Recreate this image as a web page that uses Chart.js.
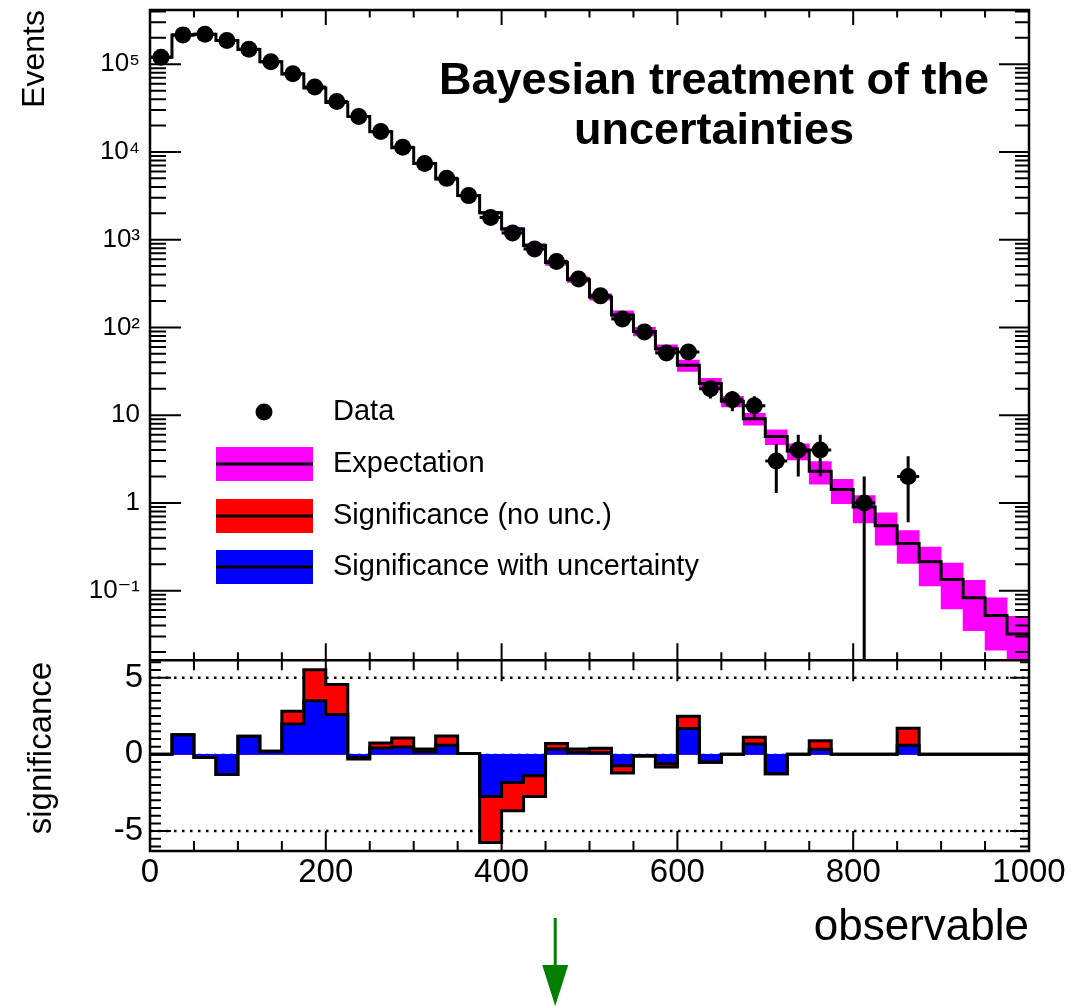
<!DOCTYPE html>
<html>
<head>
<meta charset="utf-8">
<title>Bayesian treatment of the uncertainties</title>
<script src="https://cdn.jsdelivr.net/npm/chart.js@4.4.1/dist/chart.umd.min.js"></script>
<style>
  html, body { margin: 0; padding: 0; background: #fff; }
</style>
</head>
<body>
<canvas id="sigChart" width="1071" height="1006"></canvas>
<script>
// histogram binning of the observable
const binEdges = [0, 25, 50, 75, 100, 125, 150, 175, 200, 225, 250, 275, 300, 325, 350, 375, 400, 425, 450, 475,
  500, 525, 550, 575, 600, 625, 650, 675, 700, 725, 750, 775, 800, 825, 850, 875, 900, 925, 950, 975, 1000];

// observed events per bin (null = empty bin, not drawn on log scale)
const dataCounts = [120000, 216000, 220000, 186000, 148000, 107000, 78000, 55000, 37600, 25300,
  17100, 11300, 7400, 5000, 3180, 1790, 1190, 782, 565, 356,
  229, 125, 89, 51, 52.5, 20, 15, 12.8, 3, 4,
  4, null, 1, null, 2, null, null, null, null, null];
// visible error bars on the data (hidden under the marker elsewhere)
const dataErrors = [0, 0, 0, 0, 0, 0, 0, 0, 0, 0,
  0, 0, 0, 0, 0, 0, 0, 0, 0, 0,
  15, 11, 9.5, 7, 7, 4.5, 3.9, 3.6, 1.7, 2,
  2, 0, 1, 0, 1.4, 0, 0, 0, 0, 0];

// expectation and its uncertainty band
const expectation = [120000, 215000, 220000, 186500, 147500, 107000, 77200, 53700, 36700, 25350,
  17000, 11200, 7370, 4920, 3180, 2030, 1320, 860, 548, 350,
  223, 139, 90, 57, 37, 22.9, 14.4, 9.1, 5.7, 3.9,
  2.3, 1.42, 0.9, 0.55, 0.344, 0.213, 0.134, 0.083, 0.052, 0.032];
const expectationUnc = [600, 1100, 1100, 950, 750, 550, 400, 280, 190, 260,
  340, 280, 220, 150, 110, 80, 66, 43, 38, 25,
  18, 16, 10, 6.5, 5.5, 3.4, 2, 1.4, 1.1, 0.8,
  0.66, 0.44, 0.31, 0.22, 0.14, 0.1, 0.072, 0.048, 0.031, 0.019];

// significance per bin
const sigNoUnc = [0, 1.28, -0.2, -1.32, 1.18, 0.2, 2.81, 5.52, 4.55, -0.3,
  0.74, 1.07, 0.35, 1.2, 0.05, -5.74, -3.67, -2.74, 0.7, 0.35,
  0.4, -1.22, -0.1, -0.82, 2.48, -0.52, 0, 1.11, -1.26, 0,
  0.89, 0, 0, 0, 1.7, 0, 0, 0, 0, 0];
const sigWithUnc = [0, 1.28, -0.2, -1.32, 1.18, 0.2, 1.98, 3.5, 2.59, -0.2,
  0.41, 0.48, 0.17, 0.59, 0.05, -2.74, -1.83, -1.39, 0.35, 0.13,
  0.1, -0.74, -0.1, -0.61, 1.68, -0.52, 0, 0.68, -1.26, 0,
  0.33, 0, 0, 0, 0.6, 0, 0, 0, 0, 0];

// axis ticks and texts
const xTicks = [0, 200, 400, 600, 800, 1000];
const eventTicks = [0.1, 1, 10, 100, 1000, 10000, 100000];
const sigTicks = [-5, 0, 5];
const titleLines = ['Bayesian treatment of the', 'uncertainties'];
const legendLabels = ['Data', 'Expectation', 'Significance (no unc.)', 'Significance with uncertainty'];
const arrowAt = 461;

const FONT = "'Liberation Sans', Arial, 'DejaVu Sans', sans-serif";
Chart.defaults.font.family = FONT;
Chart.defaults.color = '#000';

const centers = binEdges.slice(0, -1).map((e, i) => (e + binEdges[i + 1]) / 2);
// step outline: one point per left edge plus the closing right edge
const stepPoints = vals => binEdges.map((e, i) => ({ x: e, y: vals[Math.min(i, vals.length - 1)] }));

const SUP = { '-': '\u207B', '0': '\u2070', '1': '\u00B9', '2': '\u00B2', '3': '\u00B3', '4': '\u2074', '5': '\u2075', '6': '\u2076', '7': '\u2077', '8': '\u2078', '9': '\u2079' };
function powLabel(v) {
  const e = Math.round(Math.log10(v));
  if (e === 0) return '1';
  if (e === 1) return '10';
  return '10' + String(e).split('').map(c => SUP[c]).join('');
}

// fixed axis boxes so the frame sits where the reference has it
const fixV = s => { s.width = 150; s.paddingTop = 0; s.paddingBottom = 0; };
const fixH = s => { s.height = 155; s.paddingLeft = 0; s.paddingRight = 0; };

// keep each dataset inside its own panel
const panelClip = {
  id: 'panelClip',
  beforeDatasetDraw(chart, args) {
    const sc = args.meta.yScale;
    const a = chart.chartArea;
    chart.ctx.save();
    chart.ctx.beginPath();
    chart.ctx.rect(a.left, sc.top, a.right - a.left, sc.bottom - sc.top);
    chart.ctx.clip();
  },
  afterDatasetDraw(chart) {
    chart.ctx.restore();
  }
};

const rootFrame = {
  id: 'rootFrame',
  beforeDatasetsDraw(chart) {
    const { ctx, chartArea: a, scales: { y2 } } = chart;
    ctx.save();
    ctx.lineWidth = 2.5;
    ctx.setLineDash([2.5, 5.5]);
    ctx.strokeStyle = '#000';
    ctx.beginPath();
    [-5, 5].forEach(v => {
      const py = y2.getPixelForValue(v);
      ctx.moveTo(a.left, py);
      ctx.lineTo(a.right, py);
    });
    ctx.stroke();
    ctx.strokeStyle = '#5a5aff';
    ctx.lineWidth = 1.5;
    ctx.beginPath();
    const p0 = y2.getPixelForValue(0);
    ctx.moveTo(a.left, p0);
    ctx.lineTo(a.right, p0);
    ctx.stroke();
    ctx.restore();
  },
  afterDatasetsDraw(chart) {
    const { ctx, scales: { x, y, y2 } } = chart;

    // error bars on data
    ctx.save();
    ctx.beginPath();
    ctx.rect(x.left, y.top, x.right - x.left, y.bottom - y.top);
    ctx.clip();
    ctx.strokeStyle = '#000';
    ctx.lineWidth = 3;
    ctx.beginPath();
    dataCounts.forEach((c, i) => {
      if (c === null) return;
      const cx = x.getPixelForValue(centers[i]);
      const cy = y.getPixelForValue(c);
      ctx.moveTo(x.getPixelForValue(binEdges[i]), cy);
      ctx.lineTo(x.getPixelForValue(binEdges[i + 1]), cy);
      const e = dataErrors[i];
      if (e > 0) {
        const lo = c - e > 0 ? y.getPixelForValue(c - e) : y.bottom + 5;
        ctx.moveTo(cx, y.getPixelForValue(c + e));
        ctx.lineTo(cx, lo);
      }
    });
    ctx.stroke();
    ctx.restore();

    // frames
    ctx.save();
    ctx.strokeStyle = '#000';
    ctx.lineWidth = 2.5;
    ctx.strokeRect(x.left, y.top, x.right - x.left, y2.bottom - y.top);
    ctx.beginPath();
    ctx.moveTo(x.left, y.bottom);
    ctx.lineTo(x.right, y.bottom);
    ctx.stroke();

    // tick marks, ROOT style (inside the frame)
    ctx.lineWidth = 2;
    ctx.beginPath();
    for (let v = 0; v <= 1000; v += 50) {
      const px = x.getPixelForValue(v);
      const major = v % 200 === 0;
      ctx.moveTo(px, y.top); ctx.lineTo(px, y.top + (major ? 15 : 7.5));
      ctx.moveTo(px, y.bottom); ctx.lineTo(px, y.bottom - (major ? 17 : 8));
      ctx.moveTo(px, y2.top); ctx.lineTo(px, y2.top + (major ? 21 : 10));
      ctx.moveTo(px, y2.bottom); ctx.lineTo(px, y2.bottom - (major ? 20 : 10));
    }
    for (let d = -2; d <= 5; d++) {
      for (let m = 1; m <= 9; m++) {
        const v = m * Math.pow(10, d);
        if (v < y.min || v > y.max) continue;
        const py = y.getPixelForValue(v);
        ctx.moveTo(x.left, py); ctx.lineTo(x.left + (m === 1 ? 31 : 16), py);
        ctx.moveTo(x.right, py); ctx.lineTo(x.right - (m === 1 ? 30 : 14), py);
      }
    }
    for (let v = -6; v <= 6; v += 0.5) {
      const py = y2.getPixelForValue(v);
      const major = v % 5 === 0;
      ctx.moveTo(x.left, py); ctx.lineTo(x.left + (major ? 21 : 11), py);
      ctx.moveTo(x.right, py); ctx.lineTo(x.right - (major ? 19 : 9), py);
    }
    ctx.stroke();
    ctx.restore();
  },
  afterDraw(chart) {
    const { ctx, scales: { x, y } } = chart;
    ctx.save();
    ctx.fillStyle = '#000';

    // title inside the frame
    ctx.font = 'bold 45px ' + FONT;
    ctx.textAlign = 'center';
    ctx.textBaseline = 'alphabetic';
    titleLines.forEach((t, i) => ctx.fillText(t, 714, 94 + i * 50));

    // legend
    const rows = [412, 464, 516, 567];
    const fills = [null, '#ff00ff', '#ff0000', '#0000ff'];
    rows.forEach((cy, i) => {
      if (i === 0) {
        ctx.beginPath();
        ctx.arc(264, cy, 8.5, 0, Math.PI * 2);
        ctx.fill();
      } else {
        ctx.fillStyle = fills[i];
        ctx.fillRect(216, cy - 17, 97, 34);
        ctx.fillStyle = '#000';
        ctx.fillRect(216, cy - 1.5, 97, 3);
      }
      ctx.font = '29px ' + FONT;
      ctx.textAlign = 'left';
      ctx.textBaseline = 'middle';
      ctx.fillText(legendLabels[i], 333, cy);
    });

    // axis titles
    ctx.font = '32px ' + FONT;
    ctx.save();
    ctx.translate(35, y.top);
    ctx.rotate(-Math.PI / 2);
    ctx.textAlign = 'right';
    ctx.textBaseline = 'middle';
    ctx.fillText('Events', 0, 0);
    ctx.restore();

    ctx.font = '33px ' + FONT;
    ctx.save();
    ctx.translate(42, 748);
    ctx.rotate(-Math.PI / 2);
    ctx.textAlign = 'center';
    ctx.textBaseline = 'middle';
    ctx.fillText('significance', 0, 0);
    ctx.restore();

    ctx.font = '44px ' + FONT;
    ctx.textAlign = 'right';
    ctx.textBaseline = 'alphabetic';
    ctx.fillText('observable', x.right, 940);

    // green marker arrow below the axis
    const ax = x.getPixelForValue(arrowAt);
    ctx.strokeStyle = '#007f00';
    ctx.fillStyle = '#007f00';
    ctx.lineWidth = 3;
    ctx.beginPath();
    ctx.moveTo(ax, 918);
    ctx.lineTo(ax, 968);
    ctx.stroke();
    ctx.beginPath();
    ctx.moveTo(ax - 13, 965);
    ctx.lineTo(ax + 13, 965);
    ctx.lineTo(ax, 1006);
    ctx.closePath();
    ctx.fill();
    ctx.restore();
  }
};

const ctx = document.getElementById('sigChart').getContext('2d');

const sigChart = new Chart(ctx, {
  type: 'bar',
  data: {
    datasets: [
      {
        type: 'scatter',
        label: 'Data',
        data: dataCounts.map((c, i) => ({ x: centers[i], y: c })),
        yAxisID: 'y',
        pointRadius: 8.5,
        pointBorderWidth: 0,
        pointBackgroundColor: '#000',
        order: 0,
      },
      {
        type: 'line',
        label: 'Expectation',
        data: stepPoints(expectation),
        yAxisID: 'y',
        stepped: 'before',
        borderColor: '#000',
        borderWidth: 3,
        pointRadius: 0,
        fill: false,
        order: 1,
      },
      {
        label: 'Expectation band',
        data: expectation.map((v, i) => ({ x: centers[i], y: [v - expectationUnc[i], v + expectationUnc[i]] })),
        yAxisID: 'y',
        backgroundColor: '#ff00ff',
        grouped: false,
        barPercentage: 1,
        categoryPercentage: 1,
        order: 2,
      },
      {
        type: 'line',
        label: 'Significance with uncertainty outline',
        data: stepPoints(sigWithUnc),
        yAxisID: 'y2',
        stepped: 'before',
        borderColor: '#000',
        borderWidth: 3,
        pointRadius: 0,
        fill: false,
        order: 3,
      },
      {
        type: 'line',
        label: 'Significance (no unc.) outline',
        data: stepPoints(sigNoUnc),
        yAxisID: 'y2',
        stepped: 'before',
        borderColor: '#000',
        borderWidth: 3,
        pointRadius: 0,
        fill: false,
        order: 4,
      },
      {
        label: 'Significance with uncertainty',
        data: sigWithUnc.map((v, i) => ({ x: centers[i], y: v })),
        yAxisID: 'y2',
        backgroundColor: '#0000ff',
        grouped: false,
        barPercentage: 1,
        categoryPercentage: 1,
        order: 5,
      },
      {
        label: 'Significance (no unc.)',
        data: sigNoUnc.map((v, i) => ({ x: centers[i], y: v })),
        yAxisID: 'y2',
        backgroundColor: '#ff0000',
        grouped: false,
        barPercentage: 1,
        categoryPercentage: 1,
        order: 6,
      },
    ],
  },
  options: {
    responsive: false,
    animation: false,
    devicePixelRatio: 1,
    layout: { padding: { left: 0, right: 42, top: 10, bottom: 0 } },
    plugins: {
      legend: { display: false },
      tooltip: { enabled: false },
    },
    scales: {
      x: {
        type: 'linear',
        min: 0,
        max: 1000,
        offset: false,
        grid: { display: false, drawTicks: false, offset: false },
        border: { display: false },
        afterBuildTicks: s => { s.ticks = xTicks.map(v => ({ value: v })); },
        afterFit: fixH,
        ticks: { autoSkip: false, maxRotation: 0, padding: 2, font: { size: 33 }, callback: v => String(v) },
      },
      y: {
        type: 'logarithmic',
        min: 0.01607,
        max: 415000,
        stack: 'panels',
        stackWeight: 650,
        weight: 1,
        grid: { display: false, drawTicks: false },
        border: { display: false },
        afterBuildTicks: s => { s.ticks = eventTicks.map(v => ({ value: v })); },
        afterFit: fixV,
        ticks: { autoSkip: false, padding: 10, font: { size: 26 }, callback: v => powLabel(v) },
      },
      y2: {
        type: 'linear',
        min: -6.3,
        max: 6.13,
        stack: 'panels',
        stackWeight: 190.6,
        weight: 0,
        grid: { display: false, drawTicks: false },
        border: { display: false },
        afterBuildTicks: s => { s.ticks = sigTicks.map(v => ({ value: v })); },
        afterFit: fixV,
        ticks: { autoSkip: false, padding: 7, font: { size: 33 } },
      },
    },
  },
  plugins: [panelClip, rootFrame],
});
</script>
</body>
</html>
